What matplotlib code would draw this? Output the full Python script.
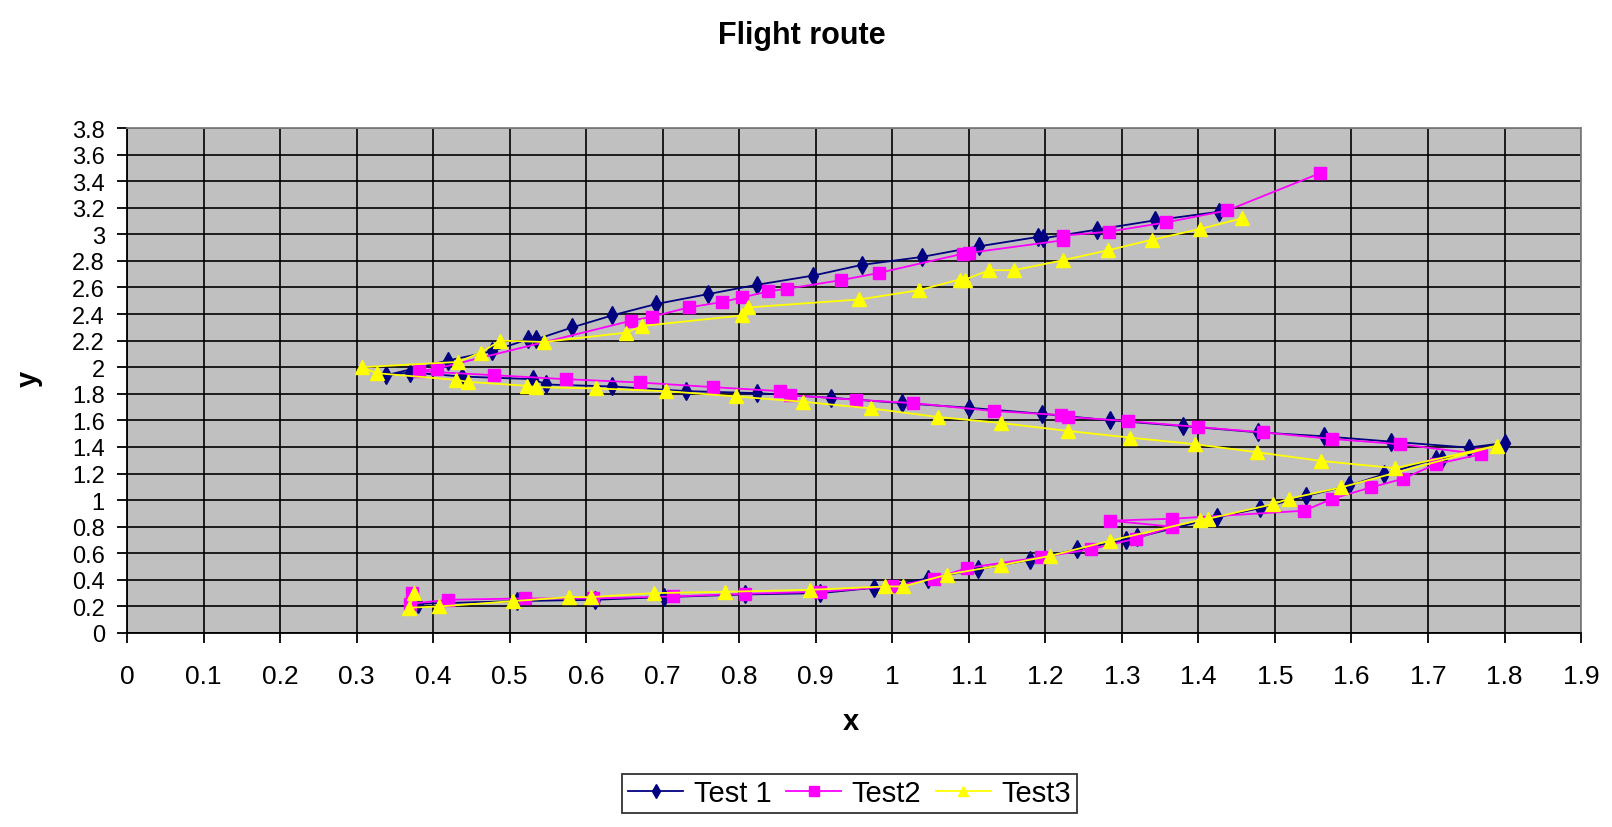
import numpy as np
import matplotlib
matplotlib.use("Agg")
import matplotlib.pyplot as plt

plt.rcParams['font.family'] = ['Liberation Sans', 'DejaVu Sans']

# -------------------------------
# Data
# -------------------------------
test1_x = [0.38, 0.51, 0.612, 0.702, 0.807, 0.906, 0.976, 1.047, 1.112, 1.18, 1.242,
           1.305, 1.32, 1.424, 1.481, 1.54, 1.597, 1.643, 1.71, 1.718, 1.80,
           1.753, 1.652, 1.564, 1.478, 1.38, 1.285, 1.195, 1.10, 1.0125, 0.92,
           0.823, 0.731, 0.634, 0.548, 0.53, 0.438, 0.37, 0.339,
           0.419, 0.477, 0.524, 0.535, 0.582, 0.634, 0.691, 0.759, 0.823, 0.897,
           0.96, 1.039, 1.1135, 1.19, 1.197, 1.267, 1.343, 1.427]
test1_y = [0.22, 0.24, 0.25, 0.27, 0.29, 0.30, 0.34, 0.41, 0.48, 0.55, 0.63,
           0.70, 0.72, 0.87, 0.94, 1.03, 1.11, 1.195, 1.31, 1.31, 1.43,
           1.395, 1.44, 1.48, 1.51, 1.557, 1.60, 1.65, 1.695, 1.73, 1.77,
           1.805, 1.82, 1.855, 1.87, 1.91, 1.93, 1.96, 1.94,
           2.05, 2.12, 2.21, 2.21, 2.30, 2.39, 2.475, 2.55, 2.62, 2.69,
           2.77, 2.83, 2.91, 2.98, 2.97, 3.035, 3.105, 3.17]

test2_x = [0.372, 0.37, 0.42, 0.52, 0.609, 0.714, 0.807, 0.906, 1.0, 1.055, 1.098,
           1.194, 1.259, 1.318, 1.366, 1.285, 1.366, 1.538, 1.575, 1.625, 1.667,
           1.71, 1.769, 1.664, 1.575, 1.484, 1.40, 1.3075, 1.23, 1.22, 1.1325,
           1.0275, 0.952, 0.866, 0.853, 0.766, 0.67, 0.573, 0.479, 0.382, 0.405,
           0.659, 0.686, 0.734, 0.777, 0.804, 0.837, 0.862, 0.933, 0.983, 1.093,
           1.10, 1.223, 1.223, 1.283, 1.358, 1.438, 1.559]
test2_y = [0.30, 0.22, 0.25, 0.26, 0.26, 0.275, 0.295, 0.31, 0.35, 0.41, 0.49,
           0.57, 0.63, 0.71, 0.80, 0.845, 0.86, 0.92, 1.01, 1.095, 1.16,
           1.27, 1.345, 1.42, 1.46, 1.51, 1.55, 1.595, 1.625, 1.64, 1.67,
           1.73, 1.755, 1.79, 1.82, 1.85, 1.885, 1.91, 1.94, 1.97, 1.99,
           2.35, 2.38, 2.45, 2.49, 2.525, 2.57, 2.59, 2.655, 2.71, 2.855,
           2.86, 2.955, 2.99, 3.02, 3.09, 3.18, 3.46]

test3_x = [0.375, 0.369, 0.408, 0.505, 0.577, 0.606, 0.688, 0.782, 0.893, 0.99, 1.014,
           1.072, 1.142, 1.206, 1.285, 1.402, 1.413, 1.498, 1.518, 1.586, 1.79,
           1.657, 1.56, 1.477, 1.396, 1.311, 1.23, 1.1425, 1.06, 0.972, 0.883,
           0.796, 0.704, 0.613, 0.534, 0.523, 0.445, 0.43, 0.326, 0.307,
           0.433, 0.462, 0.488, 0.545, 0.652, 0.673, 0.804, 0.812, 0.957, 1.035,
           1.088, 1.095, 1.127, 1.159, 1.223, 1.282, 1.34, 1.402, 1.457]
test3_y = [0.30, 0.19, 0.20, 0.24, 0.27, 0.27, 0.30, 0.31, 0.325, 0.35, 0.35,
           0.44, 0.51, 0.58, 0.695, 0.85, 0.86, 0.97, 1.01, 1.095, 1.41,
           1.24, 1.295, 1.36, 1.42, 1.47, 1.52, 1.58, 1.625, 1.69, 1.74,
           1.78, 1.82, 1.84, 1.85, 1.86, 1.89, 1.905, 1.955, 2.0,
           2.04, 2.11, 2.2, 2.19, 2.26, 2.31, 2.39, 2.45, 2.51, 2.58,
           2.66, 2.66, 2.73, 2.73, 2.805, 2.88, 2.96, 3.04, 3.12]

x_ticks = np.round(np.arange(0, 1.91, 0.1), 1)
y_ticks = np.round(np.arange(0, 3.81, 0.2), 1)

# -------------------------------
# Figure
# -------------------------------
fig = plt.figure(figsize=(16.12, 8.28), dpi=100)
ax = fig.add_axes([0.0788, 0.2343, 0.902, 0.6099])
ax.set_facecolor("#C0C0C0")

ax.plot(test1_x, test1_y, color="#000080", lw=1.3, marker="d", ms=9, label="Test 1")
ax.plot(test2_x, test2_y, color="#FF00FF", lw=1.3, marker="s", ms=9, label="Test2")
ax.plot(test3_x, test3_y, color="#FFFF00", lw=1.3, marker="^", ms=10, label="Test3")

ax.set_xlim(0, 1.9)
ax.set_ylim(0, 3.8)
ax.set_xticks(x_ticks)
ax.set_yticks(y_ticks)
ax.set_xticklabels([f"{v:g}" for v in x_ticks], fontsize=19)
ax.set_yticklabels([f"{v:g}" for v in y_ticks], fontsize=17)
ax.tick_params(axis="x", direction="out", length=7, width=1.3, pad=15)
ax.tick_params(axis="y", direction="out", length=7, width=1.3, pad=9)

ax.grid(True, color="black", lw=1.2)
ax.set_axisbelow(True)
for side in ["left", "bottom"]:
    ax.spines[side].set_color("black")
    ax.spines[side].set_linewidth(1.3)
for side in ["top", "right"]:
    ax.spines[side].set_color("#808080")
    ax.spines[side].set_linewidth(1.3)

fig.text(0.4975, 0.956, "Flight route", ha="center", va="center", fontsize=22, fontweight="bold")
fig.text(0.528, 0.128, "x", ha="center", va="center", fontsize=21, fontweight="bold")
fig.text(0.018, 0.543, "y", ha="center", va="center", fontsize=21, fontweight="bold", rotation=90)

leg = fig.legend(loc="center", bbox_to_anchor=(0.527, 0.0405), ncol=3, fontsize=21,
                 frameon=True, fancybox=False, edgecolor="black", handlelength=1.9,
                 handletextpad=0.35, columnspacing=0.5, borderpad=0.2, markerscale=0.75)
leg.get_frame().set_linewidth(1.3)

fig.savefig("out.png", dpi=100)
